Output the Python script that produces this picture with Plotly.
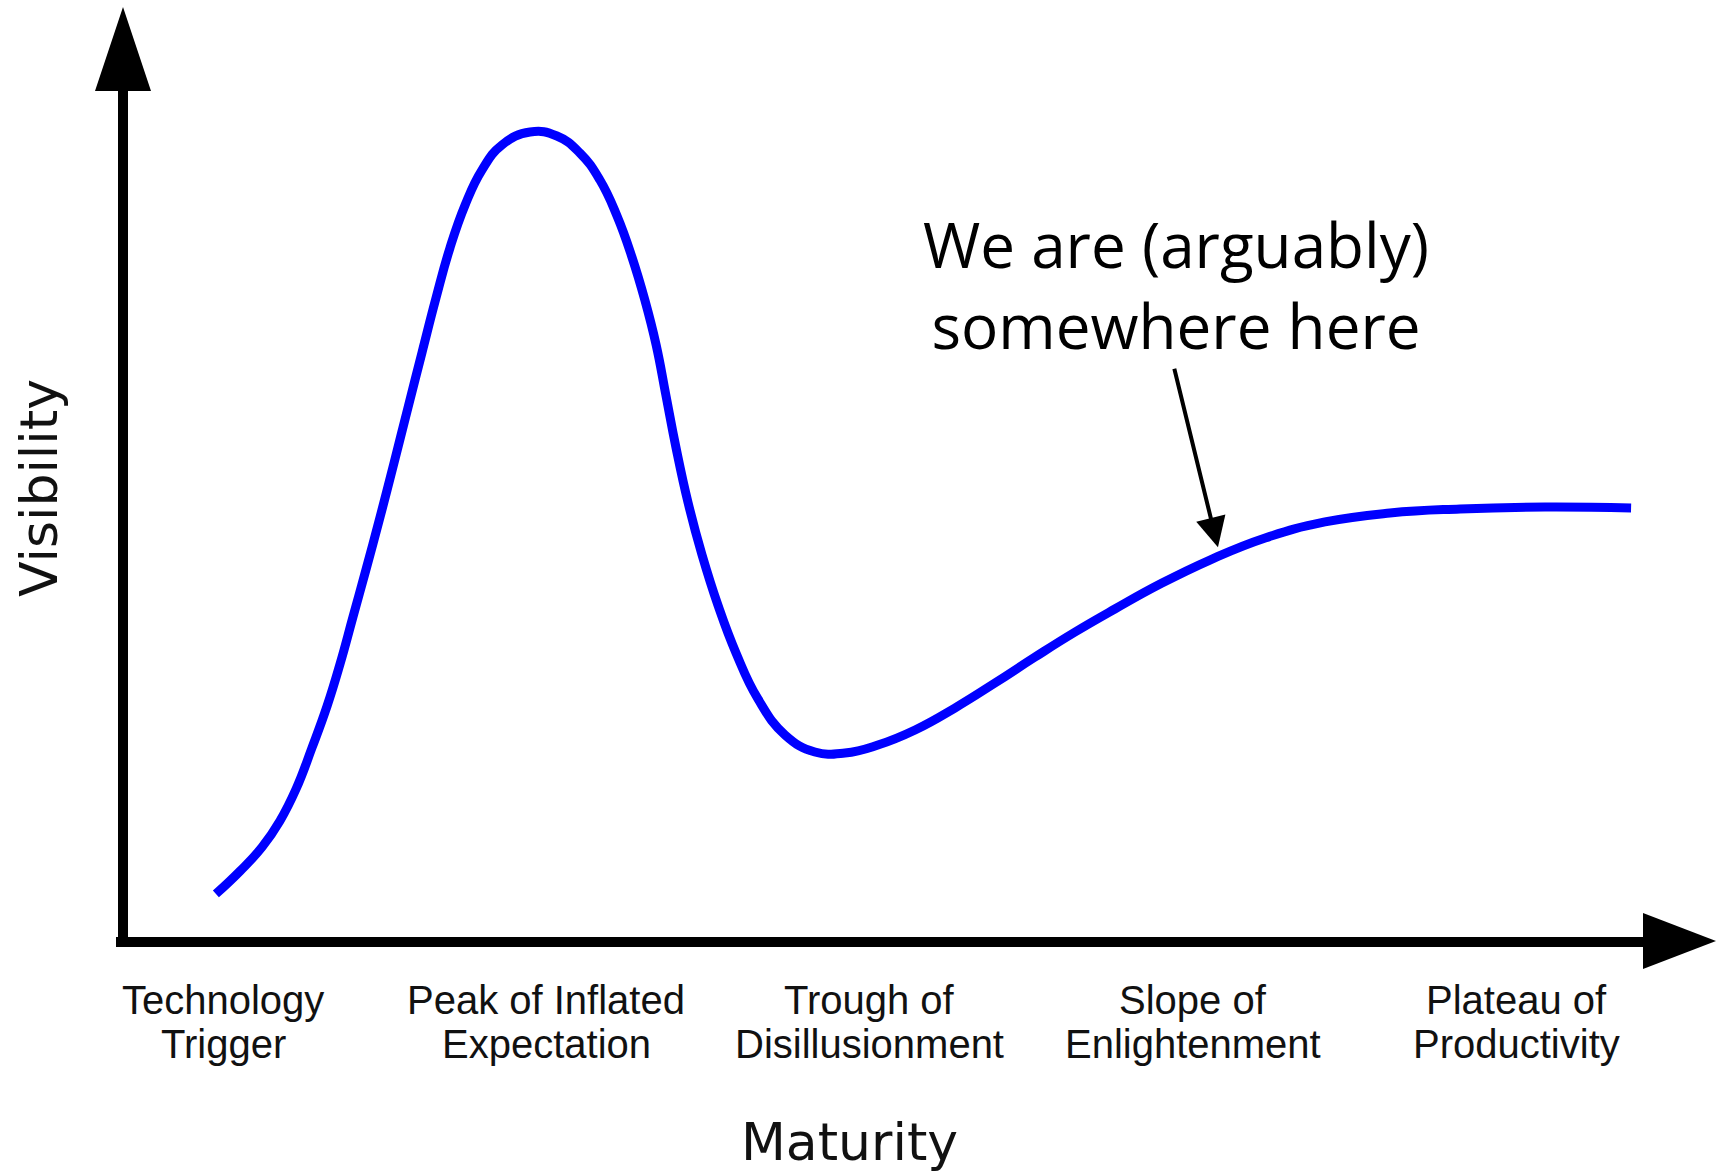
import plotly.graph_objects as go

# Hype-cycle curve: maturity (phase index 1..5) vs. visibility (0..100)
maturity = [0.978, 1.053, 1.121, 1.176, 1.226, 1.275, 1.322, 1.362, 1.402, 1.442,
            1.486, 1.529, 1.572, 1.616, 1.659, 1.702, 1.749, 1.801, 1.863, 1.950,
            2.033, 2.104, 2.166, 2.219, 2.265, 2.305, 2.340, 2.370, 2.401, 2.439,
            2.482, 2.531, 2.587, 2.655, 2.739, 2.831, 2.924, 3.026, 3.141, 3.264,
            3.388, 3.512, 3.636, 3.759, 3.899, 4.053, 4.224, 4.409, 4.610, 4.827,
            5.090, 5.356]
visibility = [5.10, 7.54, 10.08, 12.85, 16.24, 20.59, 25.05, 29.51, 34.50, 39.49,
              45.12, 50.85, 56.69, 62.63, 68.37, 73.67, 78.24, 81.95, 84.61, 85.99,
              85.56, 83.76, 80.89, 77.07, 72.72, 68.15, 63.38, 58.07, 52.55, 46.60,
              41.08, 35.77, 30.68, 25.80, 21.97, 20.17, 20.06, 20.91, 22.51, 24.84,
              27.49, 30.25, 32.91, 35.35, 38.00, 40.55, 42.89, 44.59, 45.54, 45.97,
              46.18, 46.07]

phase_positions = [1, 2, 3, 4, 5]
phase_line1 = ["Technology", "Peak of Inflated", "Trough of", "Slope of", "Plateau of"]
phase_line2 = ["Trigger", "Expectation", "Disillusionment", "Enlightenment", "Productivity"]

callout_text = "We are (arguably)<br>somewhere here"
callout_x = 4.078     # point on the slope the arrow indicates
callout_y = 41.9

W, H = 1720, 1173
ML, MB = 123, 231
PW, PH = W - ML, H - MB


def fx(px):
    """figure pixel column -> paper x"""
    return (px - ML) / PW


def fy(py):
    """figure pixel row -> paper y"""
    return (PH - py) / PH


fig = go.Figure()
fig.add_trace(go.Scatter(
    x=maturity, y=visibility, mode="lines",
    line=dict(color="#0000FF", width=9, shape="spline", smoothing=1.3),
    hoverinfo="skip", showlegend=False,
))

axis_black = "#000000"
shapes = [
    # vertical axis with arrow head
    dict(type="line", xref="paper", yref="paper",
         x0=fx(123), x1=fx(123), y0=fy(947), y1=fy(85),
         line=dict(color=axis_black, width=10)),
    dict(type="path", xref="paper", yref="paper",
         path=f"M {fx(95)},{fy(91)} L {fx(151)},{fy(91)} L {fx(123)},{fy(7)} Z",
         fillcolor=axis_black, line=dict(width=0)),
    # horizontal axis with arrow head
    dict(type="line", xref="paper", yref="paper",
         x0=fx(116), x1=fx(1648), y0=fy(942), y1=fy(942),
         line=dict(color=axis_black, width=10)),
    dict(type="path", xref="paper", yref="paper",
         path=f"M {fx(1643)},{fy(913)} L {fx(1643)},{fy(969)} L {fx(1716)},{fy(941)} Z",
         fillcolor=axis_black, line=dict(width=0)),
]

label_font = dict(family="Liberation Sans, Arial", size=40, color="#111111")
annotations = []
for xp, l1, l2 in zip(phase_positions, phase_line1, phase_line2):
    annotations.append(dict(x=xp, y=fy(1000), xref="x", yref="paper", text=l1,
                            showarrow=False, xanchor="center", yanchor="middle",
                            font=label_font))
    annotations.append(dict(x=xp, y=fy(1044), xref="x", yref="paper", text=l2,
                            showarrow=False, xanchor="center", yanchor="middle",
                            font=label_font))

title_font = dict(family="DejaVu Sans", size=52, color="#111111")
annotations.append(dict(x=fx(849), y=fy(1142), xref="paper", yref="paper",
                        text="Maturity", showarrow=False,
                        xanchor="center", yanchor="middle", font=title_font))
annotations.append(dict(x=fx(39), y=fy(488), xref="paper", yref="paper",
                        text="Visibility", showarrow=False, textangle=-90,
                        xanchor="center", yanchor="middle", font=title_font))

annotations.append(dict(x=fx(1176), y=fy(284), xref="paper", yref="paper",
                        text=callout_text, showarrow=False,
                        xanchor="center", yanchor="middle",
                        font=dict(family="Open Sans", size=62, color="#000000")))
annotations.append(dict(x=callout_x, y=callout_y, xref="x", yref="y",
                        text="", showarrow=True, ax=-44, ay=-180,
                        axref="pixel", ayref="pixel",
                        arrowhead=2, arrowsize=1.5, arrowwidth=4,
                        arrowcolor="#000000", standoff=0, startstandoff=0))

fig.update_layout(
    width=W, height=H,
    margin=dict(l=ML, r=0, t=0, b=MB, pad=0),
    paper_bgcolor="white", plot_bgcolor="white",
    xaxis=dict(range=[1 - 100 / 323.25, 1 + 1497 / 323.25], showgrid=False,
               zeroline=False, showline=False, showticklabels=False, ticks=""),
    yaxis=dict(range=[0, 100], showgrid=False, zeroline=False, showline=False,
               showticklabels=False, ticks=""),
    shapes=shapes,
    annotations=annotations,
    showlegend=False,
)

fig.write_html("out.html", config={"displayModeBar": False})
